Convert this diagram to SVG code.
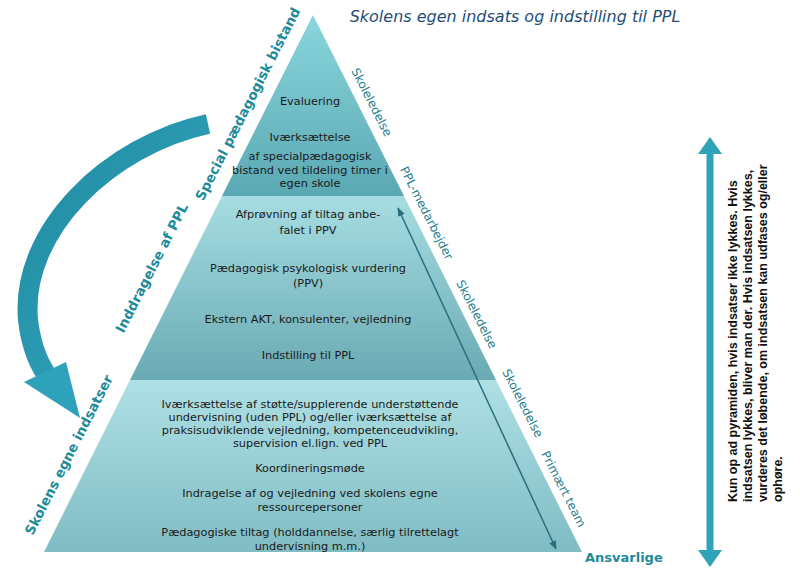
<svg xmlns="http://www.w3.org/2000/svg" width="800" height="575" viewBox="0 0 800 575">
<style>
.t{font-family:"DejaVu Sans",Verdana,sans-serif;font-size:11.3px;fill:#1a1a1a;text-anchor:middle}
.l{font-family:"DejaVu Sans",sans-serif;font-size:13.5px;font-weight:bold;fill:#1e8a9c;text-anchor:middle}
.r{font-family:"DejaVu Sans",sans-serif;font-size:12px;fill:#2a8090;text-anchor:middle}
.n{font-family:"Liberation Sans",Arial,sans-serif;font-size:12.5px;font-weight:bold;fill:#111}
</style>
<defs>
<linearGradient id="g1" x1="0" y1="0" x2="0" y2="1"><stop offset="0" stop-color="#8ad6de"/><stop offset="1" stop-color="#5aa8b2"/></linearGradient>
<linearGradient id="g2" x1="0" y1="0" x2="0" y2="1"><stop offset="0" stop-color="#a6dde2"/><stop offset="1" stop-color="#6aaab3"/></linearGradient>
<linearGradient id="g3" x1="0" y1="0" x2="0" y2="1"><stop offset="0" stop-color="#aee0e5"/><stop offset="1" stop-color="#80bcc4"/></linearGradient>
<linearGradient id="ga" x1="0" y1="0" x2="1" y2="1"><stop offset="0" stop-color="#1f8aa0"/><stop offset="1" stop-color="#35a8c2"/></linearGradient>
<marker id="ah" viewBox="0 0 10 10" refX="9" refY="5" markerWidth="6" markerHeight="6" orient="auto-start-reverse"><path d="M0,1 L10,5 L0,9 Z" fill="#2a6f80"/></marker>
</defs>
<text x="515" y="22" text-anchor="middle" font-family="DejaVu Sans,sans-serif" font-size="16" font-style="italic" fill="#1f4e79">Skolens egen indsats og indstilling til PPL</text>
<g id="tier1"><polygon points="313,15 404,196 222,196" fill="url(#g1)"/>
<text class="t" x="310" y="105">Evaluering</text>
<text class="t" x="310" y="141">Iværksættelse</text>
<text class="t" x="310" y="160">af specialpædagogisk</text>
<text class="t" x="310" y="174">bistand ved tildeling timer i</text>
<text class="t" x="310" y="187">egen skole</text></g>
<g id="tier2"><polygon points="222,196 404,196 496,380 130,380" fill="url(#g2)"/>
<text class="t" x="308" y="218">Afprøvning af tiltag anbe-</text>
<text class="t" x="308" y="234">falet i PPV</text>
<text class="t" x="308" y="272">Pædagogisk psykologisk vurdering</text>
<text class="t" x="308" y="287">(PPV)</text>
<text class="t" x="308" y="323">Ekstern AKT, konsulenter, vejledning</text>
<text class="t" x="308" y="359">Indstilling til PPL</text></g>
<g id="tier3"><polygon points="130,380 496,380 582,552 44,552" fill="url(#g3)"/>
<text class="t" x="310" y="408">Iværksættelse af støtte/supplerende understøttende</text>
<text class="t" x="310" y="421">undervisning (uden PPL) og/eller iværksættelse af</text>
<text class="t" x="310" y="434">praksisudviklende vejledning, kompetenceudvikling,</text>
<text class="t" x="310" y="447">supervision el.lign. ved PPL</text>
<text class="t" x="310" y="472">Koordineringsmøde</text>
<text class="t" x="310" y="497">Indragelse af og vejledning ved skolens egne</text>
<text class="t" x="310" y="511">ressourcepersoner</text>
<text class="t" x="310" y="536">Pædagogiske tiltag (holddannelse, særlig tilrettelagt</text>
<text class="t" x="310" y="550">undervisning m.m.)</text></g>
<g id="leftlabels">
<text class="l" transform="translate(252,106) rotate(-63)">Special pædagogisk bistand</text>
<text class="l" transform="translate(156,270) rotate(-63)">Inddragelse af PPL</text>
<text class="l" transform="translate(73,457) rotate(-63)">Skolens egne indsatser</text></g>
<g id="rightlabels">
<text class="r" transform="translate(368,104) rotate(63)">Skoleledelse</text>
<text class="r" transform="translate(423,215) rotate(63)">PPL-medarbejder</text>
<text class="r" transform="translate(473,316) rotate(63)">Skoleledelse</text>
<text class="r" transform="translate(519,405) rotate(63)">Skoleledelse</text>
<text class="r" transform="translate(560,491) rotate(63)">Primært team</text>
<text x="585" y="562" font-family="DejaVu Sans,sans-serif" font-size="13" font-weight="bold" fill="#1e8a9c">Ansvarlige</text></g>
<g id="connectors">
<path d="M208,124 C110,145 20,230 28,320 C31,345 38,362 46,374" fill="none" stroke="url(#ga)" stroke-width="20"/>
<polygon points="24,382 66,362 80,418" fill="#2fa2bb"/>
<line x1="398" y1="208" x2="556" y2="549" stroke="#2a6f80" stroke-width="1.5" marker-start="url(#ah)" marker-end="url(#ah)"/>
<line x1="710" y1="152" x2="710" y2="553" stroke="#2fa4b8" stroke-width="7"/>
<polygon points="710,137 722,154 698,154" fill="#2fa4b8"/>
<polygon points="710,567 722,550 698,550" fill="#2fa4b8"/>
</g>
<g id="note" transform="translate(737,502) rotate(-90)">
<text class="n" x="0" y="0">Kun op ad pyramiden, hvis indsatser ikke lykkes. Hvis</text>
<text class="n" x="0" y="15">indsatsen lykkes, bliver man der. Hvis indsatsen lykkes,</text>
<text class="n" x="0" y="30">vurderes det løbende, om indsatsen kan udfases og/eller</text>
<text class="n" x="0" y="45">ophøre.</text></g>
</svg>
